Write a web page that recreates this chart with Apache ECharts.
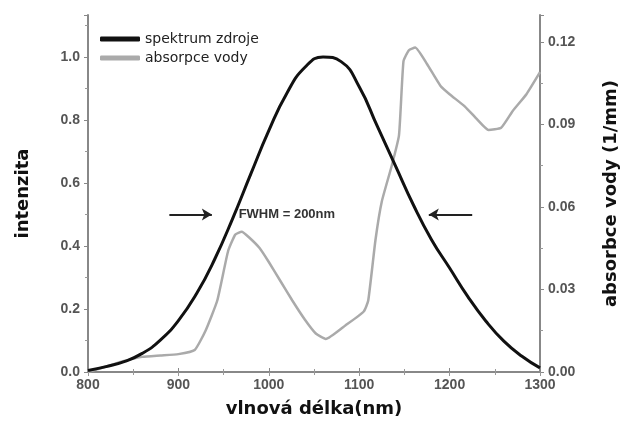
<!DOCTYPE html>
<html>
<head>
<meta charset="utf-8">
<script src="https://cdn.jsdelivr.net/npm/echarts@6/dist/echarts.min.js"></script>
<style>
  html, body { margin: 0; padding: 0; background: #fff; }
  #chart { width: 628px; height: 430px; }
</style>
</head>
<body>
<div id="chart"></div>
<script>
// spektrum zdroje (levá osa)
const srcNm = [800, 820, 840, 860, 880, 900, 920, 940, 960, 980, 1000, 1020, 1040, 1060, 1080, 1100, 1120, 1140, 1160, 1180, 1200, 1220, 1240, 1260, 1280, 1300];
const srcVal = [0.005, 0.017, 0.033, 0.059, 0.101, 0.163, 0.248, 0.357, 0.487, 0.628, 0.766, 0.885, 0.967, 1.0, 0.985, 0.905, 0.78, 0.655, 0.53, 0.42, 0.33, 0.24, 0.162, 0.098, 0.05, 0.013];

// absorpce vody (pravá osa)
const waterNm = [800, 820, 840, 860, 880, 900, 918, 930, 943, 955, 963, 970, 978, 990, 1000, 1013, 1026, 1040, 1052, 1063, 1085, 1105, 1110, 1118, 1125, 1136, 1144, 1149, 1155, 1162, 1175, 1190, 1200, 1217, 1230, 1243, 1257, 1270, 1285, 1300];
const waterVal = [0.0, 0.002, 0.004, 0.0055, 0.006, 0.0065, 0.008, 0.015, 0.026, 0.044, 0.050, 0.051, 0.049, 0.045, 0.040, 0.033, 0.026, 0.019, 0.014, 0.012, 0.017, 0.022, 0.026, 0.048, 0.062, 0.075, 0.086, 0.113, 0.117, 0.118, 0.112, 0.104, 0.101, 0.0965, 0.092, 0.088, 0.0888, 0.095, 0.101, 0.109];

const fwhmLevel = 0.5;

const chart = echarts.init(document.getElementById("chart"));

const tickLabel = {
  fontFamily: "Liberation Sans",
  fontWeight: "bold",
  fontSize: 14,
  color: "#555"
};
const axisLine = { show: true, lineStyle: { color: "#888", width: 2 } };

chart.setOption({
  animation: false,
  grid: { left: 88, right: 86, top: 15, bottom: 58 },
  legend: {
    left: 95,
    top: 27,
    orient: "vertical",
    itemGap: 5,
    itemWidth: 40,
    itemHeight: 5,
    textStyle: { fontFamily: "DejaVu Sans", fontSize: 14, color: "#222" },
    data: [
      { name: "spektrum zdroje", icon: "roundRect" },
      { name: "absorpce vody", icon: "roundRect" }
    ]
  },
  xAxis: [
    {
      type: "value",
      min: 800,
      max: 1300,
      interval: 100,
      name: "vlnová délka(nm)",
      nameLocation: "middle",
      nameGap: 28,
      nameTextStyle: { fontFamily: "DejaVu Sans", fontWeight: "bold", fontSize: 18, color: "#111" },
      axisLine: axisLine,
      axisTick: { show: true, inside: true, length: 4, lineStyle: { color: "#888" } },
      minorTick: { show: true, splitNumber: 2, length: 3, lineStyle: { color: "#999" } },
      axisLabel: Object.assign({ margin: 6, formatter: v => String(v) }, tickLabel),
      splitLine: { show: false }
    },
    {
      type: "value",
      position: "top",
      min: 800,
      max: 1300,
      interval: 100,
      axisLine: axisLine,
      axisTick: { show: true, inside: true, length: 4, lineStyle: { color: "#999" } },
      minorTick: { show: true, splitNumber: 2, length: 3, lineStyle: { color: "#999" } },
      axisLabel: { show: false },
      splitLine: { show: false }
    }
  ],
  yAxis: [
    {
      type: "value",
      min: 0,
      max: 1.133,
      interval: 0.2,
      name: "intenzita",
      nameLocation: "middle",
      nameGap: 56,
      nameTextStyle: { fontFamily: "DejaVu Sans", fontWeight: "bold", fontSize: 18, color: "#111" },
      axisLine: axisLine,
      axisTick: { show: true, length: 4, lineStyle: { color: "#888" } },
      minorTick: { show: true, splitNumber: 2, length: 3, lineStyle: { color: "#999" } },
      axisLabel: Object.assign({
        margin: 8,
        showMaxLabel: false,
        formatter: v => v.toFixed(1)
      }, tickLabel),
      splitLine: { show: false }
    },
    {
      type: "value",
      min: 0,
      max: 0.1298,
      interval: 0.03,
      name: "absorbce vody (1/mm)",
      nameLocation: "middle",
      nameGap: 62,
      nameTextStyle: { fontFamily: "DejaVu Sans", fontWeight: "bold", fontSize: 18, color: "#111" },
      axisLine: axisLine,
      axisTick: { show: true, length: 4, lineStyle: { color: "#888" } },
      minorTick: { show: true, splitNumber: 2, length: 3, lineStyle: { color: "#999" } },
      axisLabel: Object.assign({
        margin: 8,
        showMaxLabel: false,
        formatter: v => v.toFixed(2)
      }, tickLabel),
      splitLine: { show: false }
    }
  ],
  series: [
    {
      name: "absorpce vody",
      type: "line",
      yAxisIndex: 1,
      data: waterNm.map((x, i) => [x, waterVal[i]]),
      showSymbol: false,
      smooth: 0.15,
      color: "#aaa",
      lineStyle: { color: "#aaa", width: 2.5 },
      z: 2
    },
    {
      name: "spektrum zdroje",
      type: "line",
      data: srcNm.map((x, i) => [x, srcVal[i]]),
      showSymbol: false,
      smooth: 0.5,
      color: "#111",
      lineStyle: { color: "#111", width: 3 },
      z: 3,
      markLine: {
        silent: true,
        symbol: ["none", "arrow"],
        symbolSize: [9, 10],
        lineStyle: { color: "#222", width: 2, type: "solid" },
        label: { show: false },
        data: [
          [{ coord: [890, fwhmLevel] }, { coord: [937, fwhmLevel] }],
          [{ coord: [1225, fwhmLevel] }, { coord: [1177, fwhmLevel] }]
        ]
      },
      markPoint: {
        silent: true,
        symbol: "rect",
        symbolSize: [2, 2],
        itemStyle: { color: "rgba(0,0,0,0)" },
        label: {
          show: true,
          position: "inside",
          formatter: "FWHM = 200nm",
          fontFamily: "Liberation Sans",
          fontWeight: "bold",
          fontSize: 13,
          color: "#333"
        },
        data: [{ coord: [1020, fwhmLevel] }]
      }
    }
  ]
});
</script>
</body>
</html>
